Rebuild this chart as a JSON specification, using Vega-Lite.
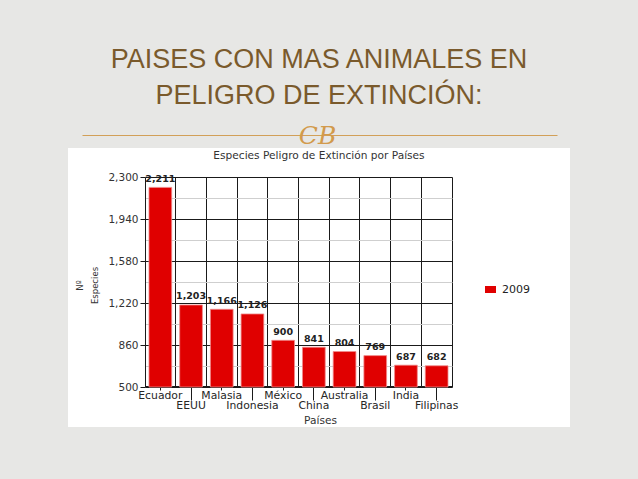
{
  "$schema": "https://vega.github.io/schema/vega-lite/v6.json",
  "width": 502,
  "height": 279,
  "autosize": {"type": "none"},
  "padding": {"left": 68, "top": 148, "right": 68, "bottom": 52},
  "background": "#e7e7e5",
  "title": {
    "text": ["PAISES CON MAS ANIMALES EN", "PELIGRO DE EXTINCIÓN:"],
    "subtitle": "Especies Peligro de Extinción por Países",
    "anchor": "middle",
    "frame": "group",
    "font": "Liberation Sans",
    "fontSize": 27,
    "fontWeight": "normal",
    "color": "#7a5a2c",
    "lineHeight": 36,
    "subtitleFont": "DejaVu Sans",
    "subtitleFontSize": 10.6,
    "subtitleColor": "#333333",
    "subtitlePadding": 41,
    "offset": -40
  },
  "data": {
    "values": [
      {"pais": "Ecuador", "especies": 2211, "anio": "2009"},
      {"pais": "EEUU", "especies": 1203, "anio": "2009"},
      {"pais": "Malasia", "especies": 1166, "anio": "2009"},
      {"pais": "Indonesia", "especies": 1126, "anio": "2009"},
      {"pais": "México", "especies": 900, "anio": "2009"},
      {"pais": "China", "especies": 841, "anio": "2009"},
      {"pais": "Australia", "especies": 804, "anio": "2009"},
      {"pais": "Brasil", "especies": 769, "anio": "2009"},
      {"pais": "India", "especies": 687, "anio": "2009"},
      {"pais": "Filipinas", "especies": 682, "anio": "2009"}
    ]
  },
  "layer": [
    {
      "mark": {"type": "bar", "width": {"band": 0.74}, "stroke": "#f08a8a", "strokeWidth": 0.8},
      "encoding": {
        "x": {
          "field": "pais", "type": "nominal", "sort": null,
          "scale": {"type": "band", "range": [77, 384], "paddingInner": 0, "paddingOuter": 0},
          "axis": {
            "orient": "bottom", "offset": -41, "grid": false,
            "domainColor": "#1a1a1a", "domainWidth": 1,
            "tickColor": "#1a1a1a", "tickWidth": 1,
            "tickSize": {"condition": {"test": "indexof(['EEUU','Indonesia','China','Brasil','Filipinas'], datum.value) >= 0", "value": 14}, "value": 4},
            "labelPadding": -1, "labelAngle": 0,
            "labelFont": "DejaVu Sans", "labelFontSize": 10.8, "labelColor": "#262626",
            "title": "Países", "titleFont": "DejaVu Sans", "titleFontSize": 10.6, "titleFontWeight": "normal",
            "titleColor": "#333333", "titleX": 252, "titleY": 34, "titleBaseline": "middle", "titleAlign": "center"
          }
        },
        "y": {
          "field": "especies", "type": "quantitative",
          "scale": {"domain": [500, 2300], "range": [239, 29], "nice": false, "zero": false},
          "axis": {
            "orient": "left", "offset": -77,
            "values": [500, 680, 860, 1040, 1220, 1400, 1580, 1760, 1940, 2120, 2300],
            "labelExpr": "(datum.value - 500) % 360 == 0 ? format(datum.value, ',') : ''",
            "grid": true, "gridWidth": 1,
            "gridColor": {"condition": {"test": "(datum.value - 500) % 360 == 0", "value": "#1a1a1a"}, "value": "#cfcfcf"},
            "tickSize": {"condition": {"test": "(datum.value - 500) % 360 == 0", "value": 5}, "value": 0},
            "tickColor": "#1a1a1a", "domainColor": "#1a1a1a",
            "labelPadding": 2, "labelFont": "DejaVu Sans", "labelFontSize": 10.5, "labelColor": "#333333",
            "title": ["Nº", "Especies"], "titleFont": "DejaVu Sans", "titleFontSize": 8.5, "titleFontWeight": "normal",
            "titleColor": "#333333", "titleLineHeight": 14.5, "titleAngle": -90,
            "titleX": -65.5, "titleY": 137, "titleAlign": "center", "titleBaseline": "middle"
          }
        },
        "y2": {"datum": 500},
        "color": {
          "field": "anio", "type": "nominal",
          "scale": {"domain": ["2009"], "range": ["#e00000"]},
          "legend": {
            "orient": "none", "legendX": 417, "legendY": 136, "title": null,
            "symbolType": "M-1,-0.64H1V0.64H-1Z", "symbolSize": 121, "symbolStrokeWidth": 0,
            "labelFont": "DejaVu Sans", "labelFontSize": 11, "labelColor": "#222222", "labelOffset": 6
          }
        }
      }
    },
    {
      "mark": {"type": "text", "dy": -5.5, "baseline": "alphabetic", "font": "DejaVu Sans", "fontSize": 9.5, "fontWeight": "bold", "color": "#222222"},
      "encoding": {
        "x": {
          "field": "pais", "type": "nominal", "sort": null,
          "scale": {"type": "band", "range": [77, 384], "paddingInner": 0, "paddingOuter": 0},
          "axis": {
            "orient": "top", "offset": 0, "grid": true, "gridColor": "#1a1a1a", "gridWidth": 1,
            "bandPosition": 1, "domain": false, "ticks": false, "labels": false, "title": null
          }
        },
        "y": {
          "field": "especies", "type": "quantitative",
          "scale": {"domain": [500, 2300], "range": [239, 29], "nice": false, "zero": false},
          "axis": {
            "orient": "left", "offset": -77,
            "values": [500, 680, 860, 1040, 1220, 1400, 1580, 1760, 1940, 2120, 2300],
            "labelExpr": "(datum.value - 500) % 360 == 0 ? format(datum.value, ',') : ''",
            "grid": true, "gridWidth": 1,
            "gridColor": {"condition": {"test": "(datum.value - 500) % 360 == 0", "value": "#1a1a1a"}, "value": "#cfcfcf"},
            "tickSize": {"condition": {"test": "(datum.value - 500) % 360 == 0", "value": 5}, "value": 0},
            "tickColor": "#1a1a1a", "domainColor": "#1a1a1a",
            "labelPadding": 2, "labelFont": "DejaVu Sans", "labelFontSize": 10.5, "labelColor": "#333333",
            "title": ["Nº", "Especies"], "titleFont": "DejaVu Sans", "titleFontSize": 8.5, "titleFontWeight": "normal",
            "titleColor": "#333333", "titleLineHeight": 14.5, "titleAngle": -90,
            "titleX": -65.5, "titleY": 137, "titleAlign": "center", "titleBaseline": "middle"
          }
        },
        "text": {"field": "especies", "type": "quantitative", "format": ","}
      }
    },
    {
      "mark": {"type": "point", "opacity": 0},
      "encoding": {
        "x": {
          "field": "pais", "type": "nominal", "sort": null,
          "scale": {"type": "point", "range": [14, 489]},
          "axis": {
            "orient": "top", "offset": 13, "grid": false,
            "domainColor": "#d2a058", "domainWidth": 1.2, "ticks": false, "labels": false,
            "title": "CB", "titleFont": "DejaVu Serif", "titleFontStyle": "italic", "titleFontSize": 25,
            "titleFontWeight": "normal", "titleColor": "#d29a4c",
            "titleX": 249, "titleY": 0, "titleBaseline": "middle", "titleAlign": "center"
          }
        }
      }
    }
  ],
  "resolve": {"scale": {"x": "independent"}, "axis": {"x": "independent"}},
  "config": {
    "view": {"fill": "#ffffff", "stroke": null},
    "axis": {"labelOverlap": false}
  }
}
